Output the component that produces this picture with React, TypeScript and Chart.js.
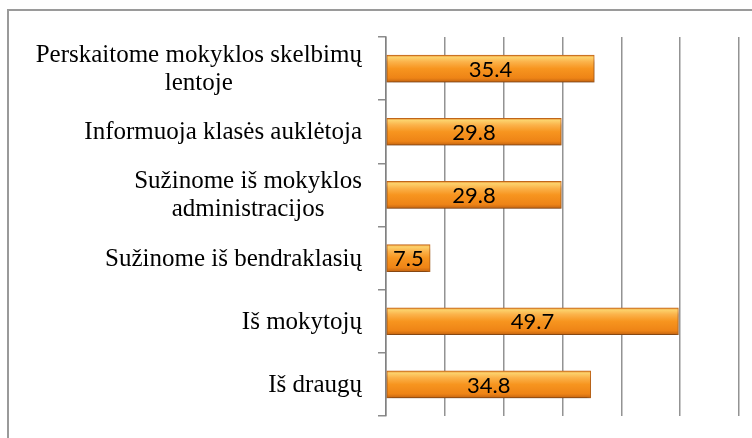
import React, { useEffect, useRef } from "react";
import { Chart, registerables } from "chart.js";

Chart.register(...registerables);

const categories: string[][] = [
  ["Perskaitome mokyklos skelbimų", "lentoje"],
  ["Informuoja klasės auklėtoja"],
  ["Sužinome iš mokyklos", "administracijos"],
  ["Sužinome iš bendraklasių"],
  ["Iš mokytojų"],
  ["Iš draugų"],
];
const values: number[] = [35.4, 29.8, 29.8, 7.5, 49.7, 34.8];
const axisMax = 60;
const axisStep = 10;

const BAR_T = 27;

const categoryLabelPlugin = {
  id: "categoryLabels",
  afterDraw(chart: any) {
    const ctx = chart.ctx;
    const y = chart.scales.y;
    ctx.save();
    ctx.font = '25px "Liberation Serif", "Times New Roman", serif';
    ctx.fillStyle = "#000";
    ctx.textBaseline = "middle";
    ctx.textAlign = "center";
    const rightEdge = y.right - 24;
    const lh = 28;
    categories.forEach((lines, i) => {
      const yc = y.getPixelForValue(i) + 1;
      const w = Math.max(...lines.map((l) => ctx.measureText(l).width));
      const cx = rightEdge - w / 2;
      const y0 = yc - ((lines.length - 1) * lh) / 2;
      lines.forEach((l, j) => ctx.fillText(l, cx, y0 + j * lh));
    });
    ctx.restore();
  },
};

const shadowPlugin = {
  id: "barShadow",
  beforeDatasetsDraw(chart: any) {
    const ctx = chart.ctx;
    ctx.save();
    ctx.shadowColor = "rgba(0,0,0,0.3)";
    ctx.shadowBlur = 3;
    ctx.shadowOffsetX = 0;
    ctx.shadowOffsetY = 5;
  },
  afterDatasetsDraw(chart: any) {
    chart.ctx.restore();
  },
};

const valueLabelPlugin = {
  id: "valueLabels",
  afterDatasetsDraw(chart: any) {
    const ctx = chart.ctx;
    const meta = chart.getDatasetMeta(0);
    ctx.save();
    ctx.font = '22px Lato, "Open Sans", sans-serif';
    ctx.fillStyle = "#000";
    ctx.textAlign = "center";
    ctx.textBaseline = "middle";
    meta.data.forEach((el: any, i: number) => {
      const cx = (el.x + el.base) / 2;
      ctx.fillText(values[i].toFixed(1), cx, el.y + 1);
    });
    ctx.restore();
  },
};

export default function App() {
  const ref = useRef<HTMLCanvasElement>(null);
  useEffect(() => {
    if (!ref.current) return;
    const chart = new Chart(ref.current, {
      type: "bar",
      data: {
        labels: categories.map((c) => c.join(" ")),
        datasets: [
          {
            data: values,
            barThickness: BAR_T,
            borderWidth: 1,
            borderColor: "#C0661A",
            borderSkipped: false,
            backgroundColor: (c: any) => {
              const chartRef = c.chart;
              const ys = chartRef.scales && chartRef.scales.y;
              if (!ys || c.dataIndex === undefined) return "#F59A2C";
              const yc = ys.getPixelForValue(c.dataIndex);
              if (!Number.isFinite(yc)) return "#F59A2C";
              const g = chartRef.ctx.createLinearGradient(0, yc - BAR_T / 2, 0, yc + BAR_T / 2);
              g.addColorStop(0, "#E98C2C");
              g.addColorStop(0.08, "#FCD26C");
              g.addColorStop(0.25, "#FBB24A");
              g.addColorStop(0.5, "#F7951F");
              g.addColorStop(0.85, "#EE8416");
              g.addColorStop(1, "#C46411");
              return g;
            },
          },
        ],
      },
      options: {
        indexAxis: "y",
        animation: false,
        responsive: false,
        devicePixelRatio: 1,
        layout: { padding: { left: 0, top: 37, right: 13, bottom: 22 } },
        plugins: {
          legend: { display: false },
          tooltip: { enabled: false },
          title: { display: false },
        },
        scales: {
          x: {
            min: 0,
            max: axisMax,
            ticks: { display: false, stepSize: axisStep },
            grid: {
              color: "rgba(128,128,128,0.85)",
              lineWidth: 1.5,
              drawTicks: false,
            },
            border: { display: false },
          },
          y: {
            offset: true,
            ticks: { display: false },
            afterFit: (s: any) => {
              s.width = 386;
            },
            grid: {
              offset: true,
              drawOnChartArea: false,
              drawTicks: true,
              tickLength: 8,
              color: "rgba(128,128,128,0.9)",
              lineWidth: 1.5,
            },
            border: { display: true, color: "rgba(128,128,128,0.9)", width: 1.5 },
          },
        },
      },
      plugins: [categoryLabelPlugin, shadowPlugin, valueLabelPlugin],
    } as any);
    return () => chart.destroy();
  }, []);
  return (
    <div style={{ position: "fixed", left: 0, top: 0, width: 752, height: 438, background: "#fff", overflow: "hidden" }}>
      <div
        style={{
          position: "absolute",
          left: 7,
          top: 9,
          width: 800,
          height: 500,
          borderTop: "2px solid #9a9a9a",
          borderLeft: "2px solid #9a9a9a",
        }}
      />
      <canvas ref={ref} width={752} height={438} style={{ position: "absolute", left: 0, top: 0, width: 752, height: 438 }} />
    </div>
  );
}
